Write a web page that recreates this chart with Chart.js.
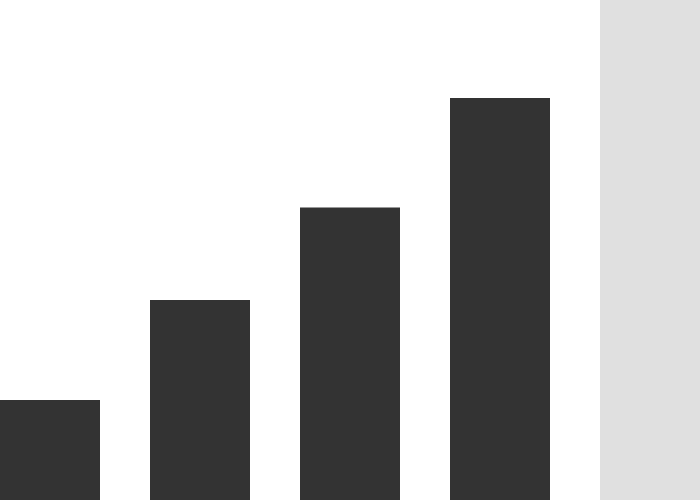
<!DOCTYPE html>
<html>
<head>
<meta charset="utf-8">
<script src="https://cdn.jsdelivr.net/npm/chart.js@4"></script>
<style>
  html, body { margin: 0; padding: 0; width: 700px; height: 500px; overflow: hidden; background: #ffffff; }
  #wrap { position: absolute; left: -25px; top: 0; width: 600px; height: 500px; }
  #panel { position: absolute; left: 600px; top: 0; width: 100px; height: 500px; background: #e0e0e0; }
</style>
</head>
<body>
<div id="wrap"><canvas id="c"></canvas></div>
<div id="panel"></div>
<script>
const categories = ["A", "B", "C", "D"];
const values = [10, 20, 29.25, 40.2];
const yMin = 0;
const yMax = 50;

new Chart(document.getElementById('c'), {
  type: 'bar',
  data: {
    labels: categories,
    datasets: [{
      data: values,
      backgroundColor: '#333333',
      borderWidth: 0,
      categoryPercentage: 1,
      barPercentage: 100 / 150
    }]
  },
  options: {
    responsive: true,
    maintainAspectRatio: false,
    animation: false,
    layout: { padding: 0 },
    plugins: { legend: { display: false }, tooltip: { enabled: false } },
    scales: {
      x: { display: false, offset: true },
      y: { display: false, min: yMin, max: yMax }
    }
  }
});
</script>
</body>
</html>
